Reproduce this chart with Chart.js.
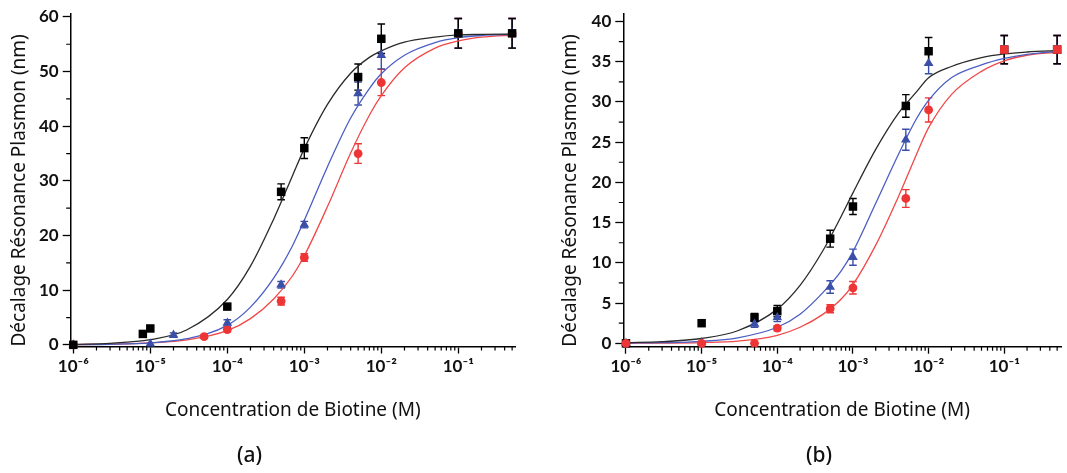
<!DOCTYPE html>
<html><head><meta charset="utf-8">
<script src="https://cdn.jsdelivr.net/npm/chart.js@4.4.1/dist/chart.umd.min.js"></script>
<style>
html,body{margin:0;padding:0;background:#fff;overflow:hidden;width:1067px;height:473px;}
#wrapA{position:absolute;left:0;top:0;width:530px;height:473px;}
#wrapB{position:absolute;left:530px;top:0;width:537px;height:473px;}
.lab{position:absolute;top:440px;font:500 21px "Noto Sans";color:#111;line-height:28px;}
</style></head><body>
<div id="wrapA"><canvas id="chartA" width="530" height="473"></canvas></div>
<div id="wrapB"><canvas id="chartB" width="537" height="473"></canvas></div>
<div class="lab" style="left:237px">(a)</div>
<div class="lab" style="left:806px">(b)</div>
<script>
// ---------- data ----------
const xTickValues = [1e-6, 1e-5, 1e-4, 1e-3, 1e-2, 1e-1];
const xTickLabels = ['10\u207B\u2076', '10\u207B\u2075', '10\u207B\u2074', '10\u207B\u00B3', '10\u207B\u00B2', '10\u207B\u00B9'];
const yTicksA = [0, 10, 20, 30, 40, 50, 60];
const yMinorA = [5, 15, 25, 35, 45, 55];
const yTicksB = [0, 5, 10, 15, 20, 25, 30, 35, 40];
const yMinorB = [2.5, 7.5, 12.5, 17.5, 22.5, 27.5, 32.5, 37.5];
const xTitle = 'Concentration de Biotine (M)';
const yTitle = 'D\u00E9calage R\u00E9sonance Plasmon (nm)';

// panel (a)
const blackXA = [1e-6, 8e-6, 1e-5, 1e-4, 5e-4, 1e-3, 5e-3, 1e-2, 1e-1, 5e-1];
const blackYA = [0, 2, 3, 7, 28, 36, 49, 56, 57, 57];
const blackErrA = [0, 0, 0, 0, 1.45, 1.9, 2.4, 2.7, 2.7, 2.7];
const blueXA = [1e-6, 1e-5, 2e-5, 1e-4, 5e-4, 1e-3, 5e-3, 1e-2, 1e-1, 5e-1];
const blueYA = [0, 0.2, 1.8, 4, 11, 22, 46, 53, 57, 57];
const blueErrA = [0, 0, 0.4, 0.6, 0.6, 0.6, 2.1, 2.5, 2.7, 2.7];
const redXA = [1e-6, 5e-5, 1e-4, 5e-4, 1e-3, 5e-3, 1e-2, 1e-1, 5e-1];
const redYA = [0, 1.5, 2.8, 8, 16, 35, 48, 57, 57];
const redErrA = [0, 0.3, 0.4, 0.7, 0.7, 1.8, 2.4, 2.7, 2.7];

// fitted curves
const fitX = [1e-6, 3e-6, 1e-5, 3e-5, 1e-4, 2e-4, 4e-4, 7e-4, 1e-3, 2e-3, 4e-3, 7e-3, 1e-2, 2e-2, 5e-2, 1e-1, 2e-1, 5.6e-1];
const blackFitA = [0.1, 0.29, 0.95, 2.76, 8.3, 14.4, 23.0, 30.9, 35.9, 44.0, 49.7, 52.6, 53.8, 55.4, 56.3, 56.7, 56.8, 56.9];
const blueFitA = [0.04, 0.11, 0.38, 1.12, 3.56, 6.9, 12.2, 18.1, 22.8, 32.6, 41.5, 46.9, 49.6, 53.0, 55.3, 56.2, 56.6, 56.8];
const redFitA = [0.05, 0.12, 0.35, 0.9, 2.6, 4.8, 8.4, 12.6, 16.3, 25.3, 35.1, 42.0, 45.6, 50.7, 54.3, 55.6, 56.3, 56.7];

// panel (b)
const concB = [1e-6, 1e-5, 5e-5, 1e-4, 5e-4, 1e-3, 5e-3, 1e-2, 1e-1, 5e-1];
const blackYB = [0, 2.5, 3.2, 4.0, 13, 17, 29.5, 36.3, 36.5, 36.5];
const blackErrB = [0, 0, 0.5, 0.7, 1.05, 1.0, 1.4, 1.7, 1.75, 1.75];
const blueYB = [0, 0.1, 2.4, 3.2, 7.0, 10.7, 25.3, 34.8, 36.5, 36.5];
const blueErrB = [0, 0, 0.4, 0.5, 0.78, 1.0, 1.3, 1.3, 1.75, 1.75];
const redYB = [0, 0, 0, 1.9, 4.3, 6.9, 18, 29, 36.5, 36.5];
const redErrB = [0, 0, 0, 0.3, 0.5, 0.78, 1.1, 1.5, 1.75, 1.75];

const blackFitB = [0.076, 0.2, 0.6, 1.56, 4.25, 7.2, 11.5, 15.8, 18.7, 24.1, 28.6, 31.3, 33.0, 34.4, 35.5, 35.96, 36.2, 36.4];
const blueFitB = [0.03, 0.084, 0.25, 0.69, 2.0, 3.62, 6.3, 9.0, 11.4, 17.4, 23.5, 28.0, 30.2, 33.0, 34.6, 35.4, 35.9, 36.3];
const redFitB = [0.01, 0.03, 0.09, 0.27, 1.0, 2.0, 3.6, 5.5, 7.3, 12.2, 18.25, 23.6, 26.8, 30.9, 33.8, 35.1, 35.8, 36.2];

// ---------- styles ----------
const C_BLACK = '#000000', C_BLACK_LINE = '#2a2a2a';
const C_BLUE = '#3b4fa8', C_BLUE_LINE = '#4b5ec4';
const C_RED = '#ee3535', C_RED_LINE = '#f14848';
const R_SQ = 6, R_TRI = 5.6, R_CIR = 4.4;

const pts = (xs, ys) => xs.map((x, i) => ({x: x, y: ys[i]}));

// error bars are drawn in dataset array order (last one on top)
const errorBars = {
  id: 'errorBars',
  beforeDatasetsDraw(chart) {
    const {ctx} = chart;
    const xs = chart.scales.x, ys = chart.scales.y;
    chart.data.datasets.forEach((ds) => {
      if (!ds.errors) return;
      ctx.save();
      ctx.strokeStyle = ds.borderColor;
      ctx.lineWidth = 1.4;
      ctx.beginPath();
      ds.data.forEach((p, j) => {
        const e = ds.errors[j];
        if (!e) return;
        const px = xs.getPixelForValue(p.x);
        const y1 = ys.getPixelForValue(p.y + e);
        const y2 = ys.getPixelForValue(p.y - e);
        ctx.moveTo(px, y1); ctx.lineTo(px, y2);
        ctx.moveTo(px - 3.8, y1); ctx.lineTo(px + 3.8, y1);
        ctx.moveTo(px - 3.8, y2); ctx.lineTo(px + 3.8, y2);
      });
      ctx.stroke();
      ctx.restore();
    });
  }
};

const minorTicks = {
  id: 'minorTicks',
  afterDraw(chart, args, opts) {
    const {ctx, chartArea} = chart;
    const xs = chart.scales.x, ys = chart.scales.y;
    ctx.save();
    ctx.strokeStyle = '#000';
    ctx.lineWidth = 1.2;
    ctx.beginPath();
    for (let e = -7; e <= 0; e++) {
      for (let k = 2; k <= 9; k++) {
        const v = k * Math.pow(10, e);
        if (v < xs.min || v > xs.max) continue;
        const px = xs.getPixelForValue(v);
        ctx.moveTo(px, chartArea.bottom);
        ctx.lineTo(px, chartArea.bottom + 4);
      }
    }
    (opts.yMinor || []).forEach(v => {
      const py = ys.getPixelForValue(v);
      ctx.moveTo(chartArea.left, py);
      ctx.lineTo(chartArea.left - 4.5, py);
    });
    ctx.stroke();
    ctx.restore();
  }
};

function markerSet(label, data, errs, color, style, radius, order) {
  return {
    label: label, data: data, errors: errs, showLine: false, order: order,
    borderColor: color, backgroundColor: color,
    pointStyle: style, pointRadius: radius, pointBorderWidth: 0,
    pointHoverRadius: radius, clip: false
  };
}
function fitSet(label, data, color) {
  return {
    label: label, data: data, showLine: true, borderColor: color, order: 5,
    backgroundColor: color, borderWidth: 1.3, pointRadius: 0,
    pointHoverRadius: 0, cubicInterpolationMode: 'monotone', fill: false
  };
}

function makeOptions(cfg) {
  return {
    responsive: false,
    animation: false,
    events: [],
    layout: {padding: cfg.padding},
    plugins: {
      legend: {display: false},
      tooltip: {enabled: false},
      minorTicks: {yMinor: cfg.yMinor}
    },
    scales: {
      x: {
        type: 'logarithmic', min: cfg.xMin, max: cfg.xMax,
        border: {display: true, color: '#000', width: 1.5},
        grid: {display: true, drawOnChartArea: false, drawTicks: true, tickLength: 7, tickColor: '#000', tickWidth: 1.3},
        afterBuildTicks: s => { s.ticks = xTickValues.map(v => ({value: v, major: true})); },
        afterFit: s => { s.height = 79; },
        ticks: {
          autoSkip: false, maxRotation: 0, padding: 3, color: '#111',
          font: {family: 'Lato', weight: 'bold', size: 17},
          callback: (v, i) => xTickLabels[i]
        },
        title: {display: true, text: xTitle, color: '#111', font: {family: 'Noto Sans', size: 19}, padding: {top: 0, bottom: 4}}
      },
      y: {
        type: 'linear', min: cfg.yMin, max: cfg.yMax,
        border: {display: true, color: '#000', width: 1.5},
        grid: {display: true, drawOnChartArea: false, drawTicks: true, tickLength: 8, tickColor: '#000', tickWidth: 1.3},
        afterBuildTicks: s => { s.ticks = cfg.yTicks.map(v => ({value: v})); },
        afterFit: s => { s.width = cfg.yWidth; },
        ticks: {
          autoSkip: false, padding: 4, color: '#111',
          font: {family: 'Lato', weight: 'bold', size: 17},
          callback: v => String(v)
        },
        title: {display: true, text: yTitle, align: 'start', color: '#111', font: {family: 'Noto Sans', size: 19}, padding: {top: cfg.yTitlePad}}
      }
    }
  };
}

new Chart(document.getElementById('chartA'), {
  type: 'line',
  data: {
    datasets: [
      markerSet('red', pts(redXA, redYA), redErrA, C_RED, 'circle', R_CIR, 2),
      markerSet('blue', pts(blueXA, blueYA), blueErrA, C_BLUE, 'triangle', R_TRI, 1),
      markerSet('black', pts(blackXA, blackYA), blackErrA, C_BLACK, 'rect', R_SQ, 0),
      fitSet('black fit', pts(fitX, blackFitA), C_BLACK_LINE),
      fitSet('blue fit', pts(fitX, blueFitA), C_BLUE_LINE),
      fitSet('red fit', pts(fitX, redFitA), C_RED_LINE)
    ]
  },
  options: makeOptions({
    padding: {left: 0, right: 15, top: 13, bottom: 47.5},
    xMin: 9.25e-7, xMax: 0.545, yMin: -0.3, yMax: 60.5,
    yTicks: yTicksA, yMinor: yMinorA, yWidth: 70.7, yTitlePad: 8.6
  }),
  plugins: [errorBars, minorTicks]
});

new Chart(document.getElementById('chartB'), {
  type: 'line',
  data: {
    datasets: [
      Object.assign(markerSet('red', pts(concB, redYB), redErrB, C_RED, 'circle', R_CIR, 0), {
        pointStyle: c => (c.dataIndex >= 8 ? 'rect' : 'circle'),
        pointRadius: c => (c.dataIndex >= 8 ? R_SQ : R_CIR)
      }),
      markerSet('blue', pts(concB, blueYB), blueErrB, C_BLUE, 'triangle', R_TRI, 1),
      markerSet('black', pts(concB, blackYB), blackErrB, C_BLACK, 'rect', R_SQ, 2),
      fitSet('black fit', pts(fitX, blackFitB), C_BLACK_LINE),
      fitSet('blue fit', pts(fitX, blueFitB), C_BLUE_LINE),
      fitSet('red fit', pts(fitX, redFitB), C_RED_LINE)
    ]
  },
  options: makeOptions({
    padding: {left: 0, right: 0, top: 9.3, bottom: 47.3},
    xMin: 9.22e-7, xMax: 0.562, yMin: -0.42, yMax: 40.9,
    yTicks: yTicksB, yMinor: yMinorB, yWidth: 93.3, yTitlePad: 29.6
  }),
  plugins: [errorBars, minorTicks]
});
</script>
</body></html>
